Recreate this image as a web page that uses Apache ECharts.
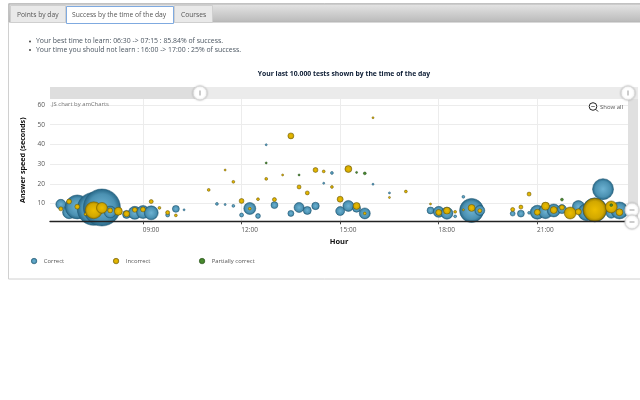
<!DOCTYPE html>
<html><head><meta charset="utf-8">
<style>html,body{margin:0;padding:0;background:#fff}#c{width:640px;height:400px}</style>
<script src="https://cdn.jsdelivr.net/npm/echarts@6/dist/echarts.min.js"></script>
</head><body><div id="c"></div>
<script>
// [hour, answer speed in seconds, answers in that bucket]
const correct = [[6.5,9.6,25],[6.75,5.6,42],[7,8.3,144],[7.5,7.3,272],[7.75,8,342],[8,5.7,36],[8.5,4.5,16],[8.75,5.3,42],[9,5.7,42],[9.25,5.3,49],[9.75,4.2,4],[10,7.3,12],[10.25,6.8,1],[11.25,9.8,2],[11.5,9.5,1],[11.75,8.8,2],[12,4.2,4],[12.25,7.5,36],[12.5,3.7,6],[12.75,39.8,1],[13,9.2,12],[13.5,5,9],[13.75,8,25],[14,6.5,16],[14.25,8.8,14],[14.5,20.3,1],[14.75,25.5,2],[15,6.2,20],[15.25,8.8,30],[15.5,7.6,16],[15.75,5,30],[16,19.8,1],[16.5,15.4,1],[17.75,6.5,12],[18,5.8,30],[18.25,5.1,36],[18.5,3.5,2],[18.75,13.4,2],[19,6.5,144],[19.25,6.5,25],[20.25,4.9,6],[20.5,4.9,12],[20.75,5.3,2],[21,5.6,49],[21.25,5.9,49],[21.5,6.5,42],[21.75,7.2,20],[22.25,8.5,36],[22.5,5.6,72],[22.75,6.8,144],[23,17.3,110],[23.25,5.1,25],[23.5,6.5,72]];
const incorrect = [[6.5,7.3,4],[6.75,11,6],[7,8.4,6],[7.25,4.6,2],[7.5,6.6,72],[7.75,7.8,30],[8,6.5,6],[8.25,6.1,16],[8.5,4.8,9],[8.75,6.8,6],[9,7,6],[9.25,11,4],[9.5,7.8,2],[9.75,5.4,4],[10,4,2],[11,16.9,2],[11.5,27,1],[11.75,21,2],[12,11.3,6],[12.25,7.4,2],[12.5,12.2,2],[12.75,22.5,2],[13,12,4],[13.25,24.5,1],[13.5,44.3,9],[13.75,18.4,4],[14,15.4,4],[14.25,27,6],[14.5,26.3,2],[14.75,18.4,2],[15,12.2,9],[15.25,27.5,12],[15.5,8.8,12],[15.75,5,2],[16,53.5,1],[16.5,13.1,1],[17,16.1,2],[17.75,9.8,1],[18,5.5,9],[18.25,6.4,12],[18.5,5.8,2],[18.75,6.8,1],[19,7.8,12],[19.25,6.4,4],[20.25,7,4],[20.5,8.2,4],[20.75,14.8,4],[21,5.6,9],[21.25,8.7,16],[21.5,6.7,12],[21.75,8,6],[22,5.2,36],[22.25,5.8,9],[22.75,6.8,132],[23.25,8.3,36],[23.5,5.6,12],[23.75,8.5,2]];
const partial = [[12.75,30.6,1],[13.75,24.5,1],[15.5,25.8,1],[15.75,25.3,2],[21.75,12,2],[23.25,9.2,2]];
const hourTicks = [9,12,15,18,21];
const speedTicks = [10,20,30,40,50,60];
const seriesNames = ['Correct','Incorrect','Partially correct'];
const tabLabels = ['Points by day','Success by the time of the day','Courses'];
const notes = ['Your best time to learn: 06:30 -> 07:15 : 85.84% of success.','Your time you should not learn : 16:00 -> 17:00 : 25% of success.'];
const titleText = 'Your last 10.000 tests shown by the time of the day';

const FONT = '"Open Sans", "Noto Sans", sans-serif';
const grad = (a,m,b) => ({type:'radial',x:.5,y:.5,r:.5,colorStops:[{offset:0,color:a},{offset:.72,color:m},{offset:1,color:b}]});
const mk = (name,data,a,m,b,edge) => ({
  name, type:'scatter', data, clip:true, animation:false, xAxisIndex:0,
  symbolSize: v => 2*Math.sqrt(v[2]),
  itemStyle:{color:grad(a,m,b),borderColor:edge,borderWidth:.5,opacity:1}
});
const T = (text,x,y,o={}) => ({type:'text',z:50,silent:true,style:Object.assign({text,x,y,font:'6.7px '+FONT,fill:'#555',textVerticalAlign:'middle'},o)});
const R = (x,y,w,h,fill,stroke,z=1) => ({type:'rect',z,silent:true,shape:{x,y,width:w,height:h},style:{fill,stroke:stroke||null,lineWidth:1}});
const H = (cx,cy,vertical) => ([
  {type:'circle',z:100,silent:true,shape:{cx,cy,r:7},style:{fill:'#fff',stroke:'#d8d8d8',lineWidth:1,shadowBlur:2,shadowColor:'rgba(0,0,0,.2)'}},
  vertical?{type:'line',z:101,silent:true,shape:{x1:cx-2.5,y1:cy,x2:cx+2.5,y2:cy},style:{stroke:'#aaa',lineWidth:1.2}}
          :{type:'line',z:101,silent:true,shape:{x1:cx,y1:cy-2.5,x2:cx,y2:cy+2.5},style:{stroke:'#aaa',lineWidth:1.2}}
]);
const tabGrad = {type:'linear',x:0,y:0,x2:0,y2:1,colorStops:[{offset:0,color:'#e6e6e6'},{offset:1,color:'#b9b9b9'}]};

const graphic = [
  R(8.5,3.5,640,275.5,'#fff','#d0d0d0',0),
  R(9,4,640,18,tabGrad,'#b4b4b4',1),
  R(10.5,5.5,55,17,'#e9e9e9','#cfcfcf',2),
  R(66.5,6.5,107,17,'#fff','#7faae0',2),
  R(174.5,5.5,38,17,'#e9e9e9','#cfcfcf',2),
  T(tabLabels[0],17,15),T(tabLabels[1],72,15),T(tabLabels[2],181,15),
  {type:'circle',z:50,silent:true,shape:{cx:30,cy:41.5,r:.9},style:{fill:'#333'}},
  {type:'circle',z:50,silent:true,shape:{cx:30,cy:50,r:.9},style:{fill:'#333'}},
  T(notes[0],36,41.5,{fill:'#4a5560',font:'6.9px '+FONT}),T(notes[1],36,50,{fill:'#4a5560',font:'6.9px '+FONT}),
  R(50,87,150,12,'#dedede',null,2),
  R(200,87,438,12,'#ebebeb',null,2),
  R(628,99,10,123,'#e0e0e0',null,2),
  ...H(200,93),...H(628,93),...H(632,210,true),...H(632,222,true),
  T('JS chart by amCharts',52,104,{fill:'#777',font:'5.9px '+FONT}),
  T('Show all',600,107,{fill:'#555',font:'6px '+FONT}),
  {type:'circle',z:60,silent:true,shape:{cx:593,cy:106.5,r:3.8},style:{fill:'#fff',stroke:'#222',lineWidth:1}},
  {type:'line',z:60,silent:true,shape:{x1:596,y1:109.5,x2:598,y2:111.5},style:{stroke:'#222',lineWidth:1}},
  {type:'line',z:60,silent:true,shape:{x1:591.2,y1:106.5,x2:594.8,y2:106.5},style:{stroke:'#555',lineWidth:.8}}
];

const legendAt = [[26,0],[108,1],[194,2]].map(([left,i]) => ({
  left, top:253, data:[seriesNames[i]], icon:'circle', itemWidth:5.5, itemHeight:5.5, itemGap:0,
  itemStyle:{borderWidth:.6},
  textStyle:{fontSize:5.9,color:'#555',fontFamily:FONT,padding:[0,0,0,2]}, selectedMode:false
}));

const chart = echarts.init(document.getElementById('c'),null,{renderer:'canvas'});
chart.setOption({
  animation:false,
  backgroundColor:'#fff',
  textStyle:{fontFamily:FONT},
  title:{text:titleText,left:339,textAlign:'center',top:66,textStyle:{fontSize:6.8,fontWeight:'bold',color:'#0c1c34',fontFamily:FONT}},
  grid:{left:50,right:12,top:99,bottom:178.7},
  xAxis:[
    {type:'value',min:6.17,max:23.76,position:'bottom',
      axisLine:{show:false},axisLabel:{show:false},
      axisTick:{show:false,customValues:hourTicks},
      splitLine:{show:true,lineStyle:{color:'#ececec'}}},
    {type:'value',min:6.17,max:23.76,position:'bottom',z:10,name:'Hour',nameLocation:'middle',nameGap:17,
      nameTextStyle:{fontSize:7.5,fontWeight:'bold',color:'#111',fontFamily:FONT},
      axisLine:{onZero:false,lineStyle:{color:'#222',width:1.4}},
      axisTick:{length:3,customValues:hourTicks,lineStyle:{color:'#444'}},
      splitLine:{show:false},
      axisLabel:{fontSize:6.5,color:'#555',margin:5,padding:[0,0,0,16],customValues:hourTicks,
        formatter:v=>String(v).padStart(2,'0')+':00'}}
  ],
  yAxis:{type:'value',min:1,max:63,name:'Answer speed (seconds)',nameLocation:'middle',nameGap:19,
    nameTextStyle:{fontSize:7.2,fontWeight:'bold',color:'#111',fontFamily:FONT},
    axisLine:{show:false},axisTick:{show:false,customValues:speedTicks},
    splitLine:{show:true,lineStyle:{color:'#ececec'}},
    axisLabel:{fontSize:6.5,color:'#555',margin:5,customValues:speedTicks}},
  legend:legendAt,
  graphic,
  series:[
    mk(seriesNames[0],correct,'#6db2d2','#4b91b2','#246484','#1d5570'),
    mk(seriesNames[1],incorrect,'#ecbd00','#d2a800','#9a7c00','#6e5a00'),
    mk(seriesNames[2],partial,'#4d8f30','#40802a','#336f1f','#264f18')
  ]
});
</script></body></html>
